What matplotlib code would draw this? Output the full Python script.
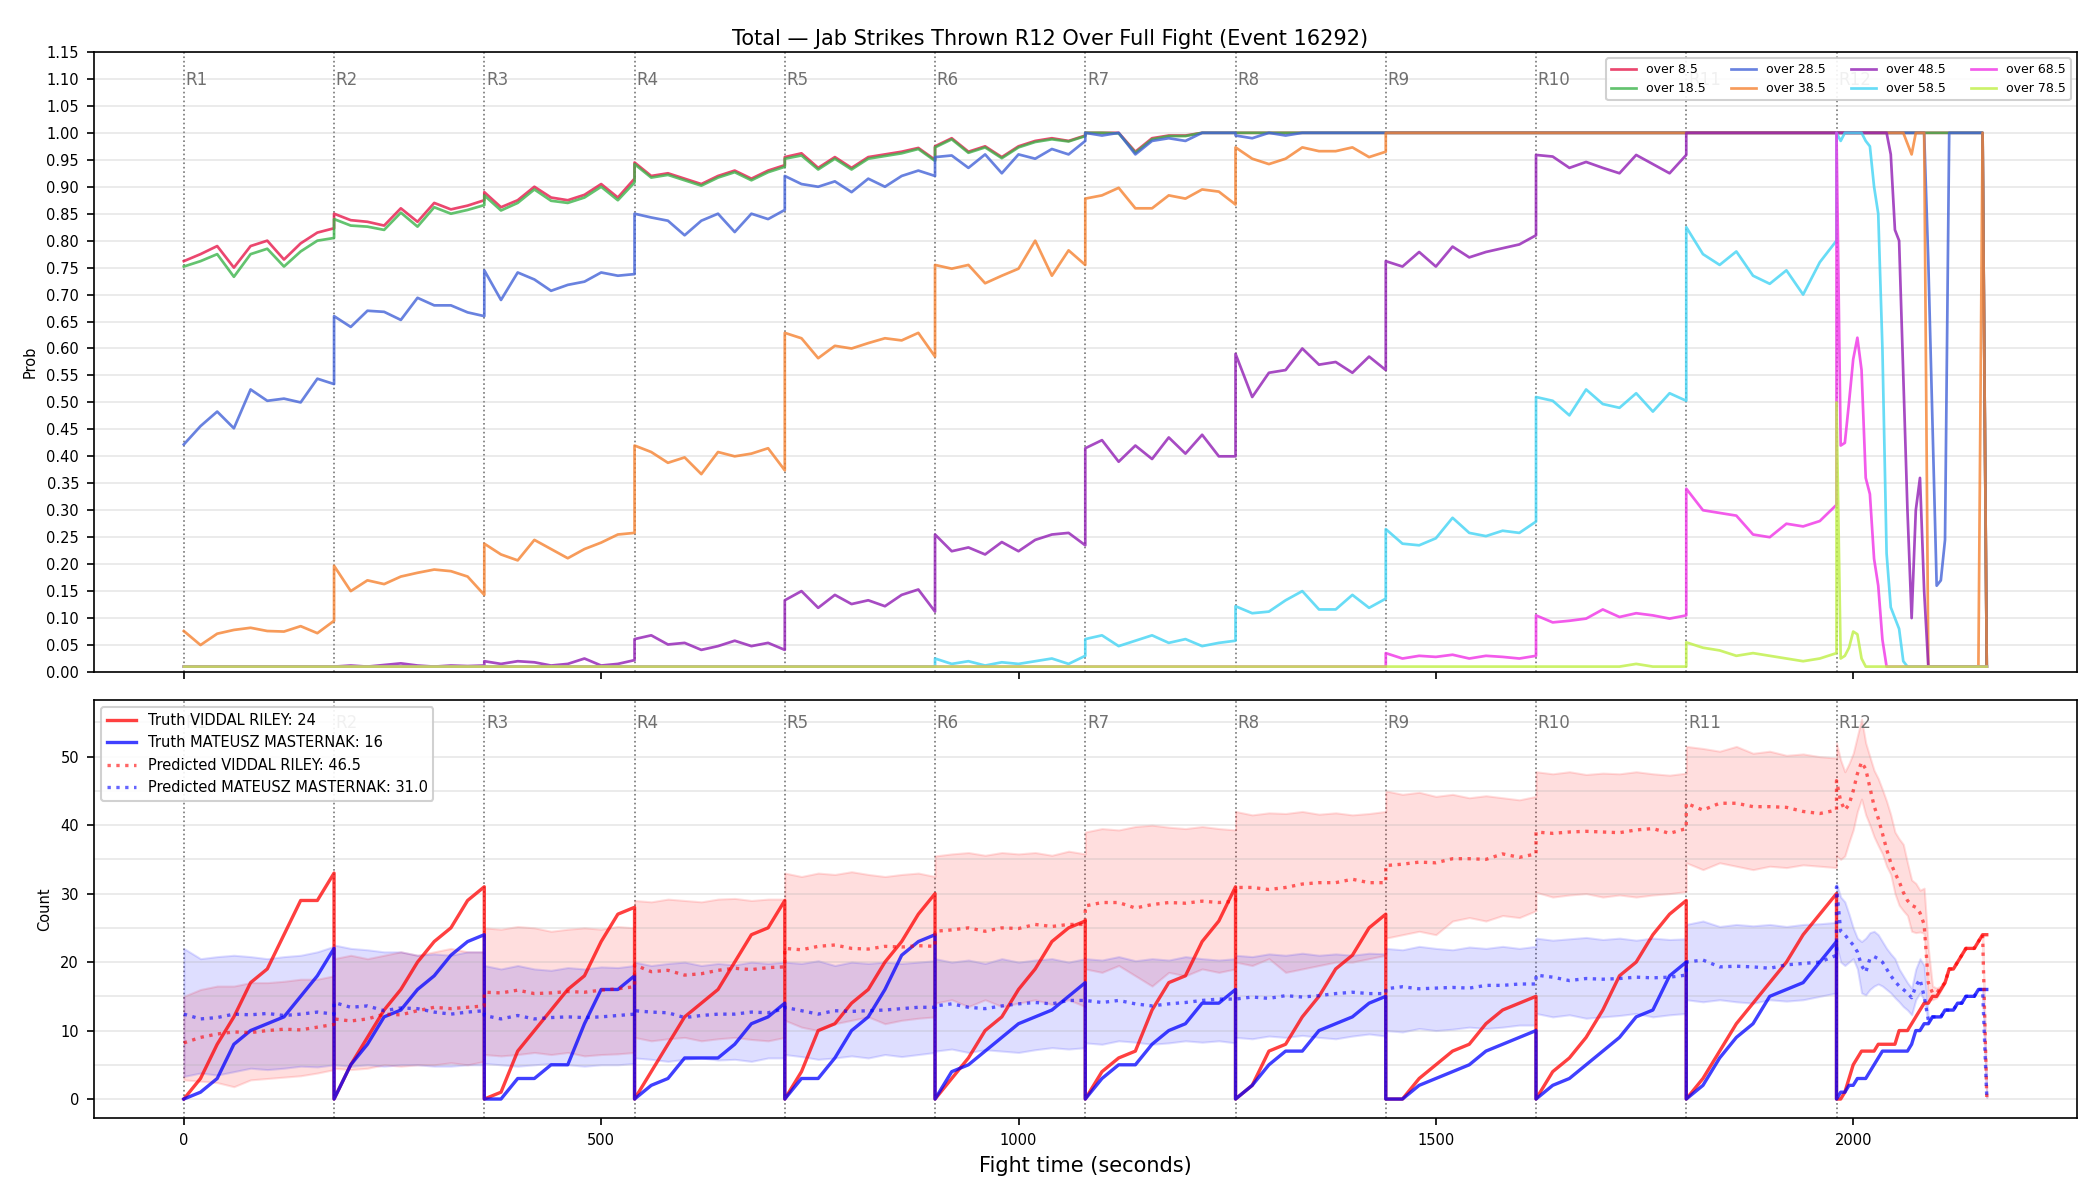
import numpy as np
import matplotlib
matplotlib.use("Agg")
import matplotlib.pyplot as plt
from matplotlib.ticker import MultipleLocator, FormatStrFormatter

# sampling grid: every 20 s in rounds 1-11, every 5 s in round 12
round_offsets = [0, 20, 40, 60, 80, 100, 120, 140, 160, 180]
r12_offsets = list(range(0, 181, 5))
round_starts = [0, 180, 360, 540, 720, 900, 1080, 1260, 1440, 1620, 1800, 1980]
round_names = ["R1", "R2", "R3", "R4", "R5", "R6", "R7", "R8", "R9", "R10", "R11", "R12"]

line_labels = ["over 8.5", "over 18.5", "over 28.5", "over 38.5",
               "over 48.5", "over 58.5", "over 68.5", "over 78.5"]
line_colors = ["#e6194b", "#3cb44b", "#4363d8", "#f58231",
               "#911eb4", "#42d4f4", "#f032e6", "#bfef45"]

# ---- probability of "over" per line, one list per round ----
over_8_5 = [
    [0.762, 0.775, 0.79, 0.75, 0.79, 0.80, 0.765, 0.795, 0.815, 0.823],
    [0.85, 0.838, 0.835, 0.828, 0.86, 0.835, 0.87, 0.858, 0.865, 0.875],
    [0.89, 0.862, 0.875, 0.90, 0.88, 0.875, 0.885, 0.905, 0.88, 0.915],
    [0.945, 0.92, 0.925, 0.915, 0.905, 0.92, 0.93, 0.915, 0.93, 0.94],
    [0.955, 0.962, 0.935, 0.955, 0.935, 0.955, 0.96, 0.965, 0.972, 0.95],
    [0.975, 0.99, 0.965, 0.975, 0.955, 0.975, 0.985, 0.99, 0.985, 0.995],
    [1.0, 1.0, 1.0, 0.965, 0.99, 0.995, 0.995, 1.0, 1.0, 1.0],
    [1.0] * 10, [1.0] * 10, [1.0] * 10, [1.0] * 10,
    [1.0] * 36 + [0.01],
]
over_18_5 = [
    [0.752, 0.762, 0.775, 0.733, 0.775, 0.785, 0.752, 0.78, 0.80, 0.805],
    [0.84, 0.828, 0.826, 0.82, 0.852, 0.826, 0.862, 0.85, 0.857, 0.866],
    [0.884, 0.856, 0.87, 0.895, 0.874, 0.87, 0.88, 0.90, 0.875, 0.908],
    [0.942, 0.917, 0.922, 0.912, 0.902, 0.917, 0.927, 0.912, 0.927, 0.937],
    [0.952, 0.958, 0.932, 0.952, 0.932, 0.952, 0.957, 0.962, 0.97, 0.948],
    [0.973, 0.988, 0.963, 0.973, 0.953, 0.973, 0.983, 0.988, 0.984, 0.994],
    [1.0, 1.0, 0.999, 0.963, 0.988, 0.994, 0.994, 1.0, 1.0, 1.0],
    [1.0] * 10, [1.0] * 10, [1.0] * 10, [1.0] * 10,
    [1.0] * 36 + [0.01],
]
over_28_5 = [
    [0.422, 0.456, 0.483, 0.452, 0.524, 0.503, 0.507, 0.50, 0.544, 0.534],
    [0.66, 0.64, 0.67, 0.668, 0.653, 0.694, 0.68, 0.68, 0.667, 0.66],
    [0.745, 0.69, 0.741, 0.728, 0.707, 0.718, 0.724, 0.741, 0.735, 0.738],
    [0.85, 0.843, 0.837, 0.81, 0.837, 0.85, 0.816, 0.85, 0.84, 0.857],
    [0.92, 0.905, 0.90, 0.91, 0.89, 0.915, 0.90, 0.92, 0.93, 0.92],
    [0.955, 0.958, 0.935, 0.96, 0.925, 0.96, 0.952, 0.97, 0.96, 0.985],
    [1.0, 0.995, 1.0, 0.96, 0.985, 0.99, 0.985, 1.0, 1.0, 1.0],
    [0.995, 0.99, 1.0, 0.995, 1.0, 1.0, 1.0, 1.0, 1.0, 1.0],
    [1.0] * 10, [1.0] * 10, [1.0] * 10,
    [1.0] * 22 + [0.76, 0.46, 0.16, 0.17, 0.245] + [1.0] * 9 + [0.01],
]
over_38_5 = [
    [0.076, 0.05, 0.071, 0.078, 0.082, 0.076, 0.075, 0.085, 0.072, 0.095],
    [0.197, 0.15, 0.17, 0.163, 0.177, 0.184, 0.19, 0.187, 0.177, 0.143],
    [0.238, 0.218, 0.207, 0.245, 0.228, 0.211, 0.228, 0.24, 0.255, 0.258],
    [0.42, 0.408, 0.388, 0.398, 0.367, 0.408, 0.40, 0.405, 0.415, 0.374],
    [0.629, 0.619, 0.582, 0.605, 0.60, 0.61, 0.619, 0.615, 0.629, 0.585],
    [0.755, 0.748, 0.755, 0.721, 0.735, 0.748, 0.80, 0.735, 0.782, 0.755],
    [0.878, 0.884, 0.898, 0.86, 0.86, 0.884, 0.878, 0.895, 0.891, 0.867],
    [0.973, 0.952, 0.942, 0.952, 0.973, 0.966, 0.966, 0.973, 0.955, 0.965],
    [1.0] * 10, [1.0] * 10, [1.0] * 10,
    [1.0] * 17 + [0.98, 0.96, 1.0, 1.0, 1.0] + [0.01] * 13 + [1.0, 0.01],
]
over_48_5 = [
    [0.01] * 10,
    [0.01, 0.012, 0.01, 0.013, 0.016, 0.012, 0.01, 0.012, 0.011, 0.012],
    [0.02, 0.015, 0.02, 0.018, 0.012, 0.015, 0.025, 0.012, 0.015, 0.022],
    [0.061, 0.068, 0.051, 0.054, 0.041, 0.048, 0.058, 0.048, 0.054, 0.041],
    [0.133, 0.15, 0.119, 0.143, 0.126, 0.133, 0.122, 0.143, 0.153, 0.112],
    [0.255, 0.224, 0.231, 0.218, 0.241, 0.224, 0.245, 0.255, 0.258, 0.235],
    [0.415, 0.43, 0.39, 0.42, 0.395, 0.435, 0.405, 0.44, 0.40, 0.40],
    [0.59, 0.51, 0.555, 0.56, 0.60, 0.57, 0.575, 0.555, 0.585, 0.56],
    [0.762, 0.752, 0.779, 0.752, 0.789, 0.769, 0.779, 0.786, 0.793, 0.81],
    [0.959, 0.956, 0.935, 0.946, 0.935, 0.925, 0.959, 0.942, 0.925, 0.959],
    [1.0] * 10,
    [1.0] * 13 + [0.96, 0.82, 0.80, 0.55, 0.30, 0.10, 0.30, 0.36, 0.15] + [0.01] * 15,
]
over_58_5 = [
    [0.01] * 10, [0.01] * 10, [0.01] * 10, [0.01] * 10, [0.01] * 10,
    [0.025, 0.015, 0.02, 0.012, 0.018, 0.015, 0.02, 0.025, 0.015, 0.03],
    [0.061, 0.068, 0.048, 0.058, 0.068, 0.054, 0.061, 0.048, 0.054, 0.058],
    [0.122, 0.109, 0.112, 0.133, 0.15, 0.116, 0.116, 0.143, 0.119, 0.136],
    [0.265, 0.238, 0.235, 0.248, 0.286, 0.258, 0.252, 0.262, 0.258, 0.279],
    [0.51, 0.503, 0.476, 0.524, 0.497, 0.49, 0.517, 0.483, 0.517, 0.503],
    [0.825, 0.775, 0.755, 0.78, 0.735, 0.72, 0.745, 0.70, 0.76, 0.80],
    [1.0, 0.985, 1.0, 1.0, 1.0, 1.0, 1.0, 0.985, 0.975, 0.90, 0.85, 0.60,
     0.22, 0.12, 0.10, 0.08, 0.02] + [0.01] * 20,
]
over_68_5 = [
    [0.01] * 10, [0.01] * 10, [0.01] * 10, [0.01] * 10,
    [0.01] * 10, [0.01] * 10, [0.01] * 10, [0.01] * 10,
    [0.035, 0.025, 0.03, 0.028, 0.032, 0.025, 0.03, 0.028, 0.025, 0.03],
    [0.105, 0.092, 0.095, 0.099, 0.116, 0.102, 0.109, 0.105, 0.099, 0.105],
    [0.34, 0.30, 0.295, 0.29, 0.255, 0.25, 0.275, 0.27, 0.28, 0.31],
    [1.0, 0.42, 0.425, 0.50, 0.58, 0.62, 0.56, 0.36, 0.33, 0.21, 0.16, 0.06,
     0.01] + [0.01] * 24,
]
over_78_5 = [
    [0.01] * 10, [0.01] * 10, [0.01] * 10, [0.01] * 10, [0.01] * 10,
    [0.01] * 10, [0.01] * 10, [0.01] * 10, [0.01] * 10,
    [0.01, 0.01, 0.01, 0.01, 0.01, 0.01, 0.015, 0.01, 0.01, 0.01],
    [0.055, 0.045, 0.04, 0.03, 0.035, 0.03, 0.025, 0.02, 0.025, 0.035],
    [0.50, 0.025, 0.03, 0.045, 0.075, 0.07, 0.025, 0.01] + [0.01] * 29,
]

# ---- counts (within-round cumulative) ----
truth_riley = [
    [0, 3, 8, 12, 17, 19, 24, 29, 29, 33],
    [0, 5, 9, 13, 16, 20, 23, 25, 29, 31],
    [0, 1, 7, 10, 13, 16, 18, 23, 27, 28],
    [0, 4, 8, 12, 14, 16, 20, 24, 25, 29],
    [0, 4, 10, 11, 14, 16, 20, 23, 27, 30],
    [0, 3, 6, 10, 12, 16, 19, 23, 25, 26],
    [0, 4, 6, 7, 13, 17, 18, 23, 26, 31],
    [0, 2, 7, 8, 12, 15, 19, 21, 25, 27],
    [0, 0, 3, 5, 7, 8, 11, 13, 14, 15],
    [0, 4, 6, 9, 13, 18, 20, 24, 27, 29],
    [0, 3, 7, 11, 14, 17, 20, 24, 27, 30],
    [0, 0, 1, 3, 5, 6, 7, 7, 7, 7, 8, 8, 8, 8, 8, 10, 10, 10, 11, 12, 13, 14,
     14, 15, 15, 16, 17, 19, 19, 20, 21, 22, 22, 22, 23, 24, 24],
]
truth_masternak = [
    [0, 1, 3, 8, 10, 11, 12, 15, 18, 22],
    [0, 5, 8, 12, 13, 16, 18, 21, 23, 24],
    [0, 0, 3, 3, 5, 5, 11, 16, 16, 18],
    [0, 2, 3, 6, 6, 6, 8, 11, 12, 14],
    [0, 3, 3, 6, 10, 12, 16, 21, 23, 24],
    [0, 4, 5, 7, 9, 11, 12, 13, 15, 17],
    [0, 3, 5, 5, 8, 10, 11, 14, 14, 16],
    [0, 2, 5, 7, 7, 10, 11, 12, 14, 15],
    [0, 0, 2, 3, 4, 5, 7, 8, 9, 10],
    [0, 2, 3, 5, 7, 9, 12, 13, 18, 20],
    [0, 2, 6, 9, 11, 15, 16, 17, 20, 23],
    [0, 1, 1, 2, 2, 3, 3, 3, 4, 5, 6, 7, 7, 7, 7, 7, 7, 7, 8, 10, 10, 11, 11,
     12, 12, 12, 13, 13, 13, 14, 14, 15, 15, 15, 16, 16, 16],
]
pred_riley = [
    [8.2, 9.0, 9.5, 9.8, 9.7, 10.0, 10.2, 10.1, 10.5, 10.9],
    [11.7, 11.4, 11.7, 12.4, 12.3, 12.9, 13.4, 13.2, 13.4, 13.6],
    [15.6, 15.5, 15.9, 15.4, 15.5, 15.7, 15.6, 15.9, 16.1, 16.4],
    [19.6, 18.6, 18.8, 18.1, 18.3, 18.8, 19.1, 18.9, 19.2, 19.3],
    [22.0, 21.8, 22.3, 22.5, 22.0, 21.9, 22.3, 22.2, 22.4, 22.3],
    [24.5, 24.7, 25.0, 24.5, 25.0, 24.9, 25.5, 25.2, 25.5, 25.5],
    [28.2, 28.7, 28.7, 27.9, 28.4, 28.7, 28.6, 28.9, 28.7, 28.9],
    [30.9, 30.9, 30.6, 30.9, 31.4, 31.6, 31.6, 32.1, 31.6, 31.6],
    [34.1, 34.3, 34.6, 34.5, 35.1, 35.1, 35.0, 35.8, 35.3, 35.8],
    [39.0, 38.8, 39.0, 39.1, 39.0, 38.9, 39.3, 39.5, 38.8, 39.5],
    [43.2, 42.2, 43.2, 43.2, 42.7, 42.7, 42.6, 42.0, 41.7, 42.2],
    [46.5, 43.5, 42.2, 43.0, 45.0, 47.5, 49.2, 48.2, 45.5, 42.8, 41.0, 38.8,
     36.5, 34.5, 33.0, 31.8, 30.2, 29.0, 28.3, 28.0, 27.2, 25.5, 17.0, 15.5,
     15.5, 16.3, 17, 19, 19, 20, 21, 22, 22, 22, 23, 24, 0.3],
]
pred_masternak = [
    [12.4, 11.7, 11.9, 12.4, 12.3, 12.5, 12.2, 12.4, 12.7, 12.4],
    [14.1, 13.4, 13.6, 12.9, 13.3, 13.2, 12.7, 12.4, 12.7, 12.9],
    [12.2, 11.7, 12.2, 11.7, 11.9, 12.0, 11.9, 12.0, 12.2, 12.4],
    [12.9, 12.7, 12.6, 11.9, 12.2, 12.4, 12.4, 12.7, 12.6, 13.2],
    [13.4, 12.9, 12.4, 12.9, 12.8, 12.9, 13.0, 13.2, 13.4, 13.4],
    [13.6, 13.9, 13.4, 13.2, 13.6, 13.9, 14.1, 13.9, 14.4, 14.4],
    [14.4, 14.1, 14.4, 13.9, 13.6, 13.9, 14.1, 14.4, 14.6, 14.6],
    [14.6, 14.9, 14.7, 15.1, 14.9, 15.1, 15.4, 15.6, 15.4, 15.4],
    [16.1, 16.4, 16.1, 16.2, 16.3, 16.2, 16.6, 16.6, 16.8, 16.8],
    [18.1, 17.8, 17.3, 17.6, 17.5, 17.6, 17.8, 17.7, 17.8, 18.1],
    [20.0, 20.3, 19.3, 19.4, 19.3, 19.1, 19.6, 19.8, 20.0, 21.0],
    [31.0, 24.5, 24.0, 23.2, 22.5, 21.5, 19.5, 18.5, 20.5, 20.8, 20.5, 20.0,
     19.0, 18.0, 17.2, 16.5, 16.0, 15.5, 14.8, 16.5, 17.5, 15.0, 11.5,
     12, 12, 12, 13, 13, 13, 14, 14, 15, 15, 15, 16, 16, 0.3],
]
riley_hi = [
    [15.0, 16.0, 16.5, 16.5, 17.0, 17.0, 17.2, 17.5, 17.5, 18.0],
    [20.5, 21.0, 20.5, 21.0, 21.5, 21.0, 21.5, 22.0, 21.5, 21.5],
    [25.0, 24.8, 25.2, 25.0, 24.5, 24.8, 25.0, 24.8, 25.2, 25.0],
    [29.0, 28.8, 29.2, 29.0, 28.8, 29.2, 29.3, 29.0, 29.2, 29.2],
    [33.0, 32.5, 33.0, 32.8, 33.2, 32.8, 32.5, 32.8, 33.0, 32.5],
    [35.5, 35.8, 36.0, 35.6, 36.0, 35.8, 36.0, 35.6, 36.2, 35.8],
    [39.0, 39.5, 39.3, 39.8, 40.0, 39.7, 39.5, 39.8, 39.5, 39.3],
    [42.0, 41.5, 41.8, 41.7, 42.0, 41.6, 41.8, 41.5, 41.7, 42.0],
    [45.0, 44.5, 44.8, 44.2, 44.5, 44.0, 44.3, 44.0, 43.7, 44.2],
    [47.8, 47.5, 47.8, 47.4, 47.6, 47.5, 47.8, 47.5, 47.3, 47.6],
    [51.5, 51.2, 50.8, 51.5, 50.5, 50.8, 50.2, 50.4, 50.0, 49.8],
    [52.0, 49.5, 47.8, 49.0, 50.5, 53.0, 55.5, 52.0, 50.0, 48.0, 46.8, 45.2,
     43.5, 41.5, 39.0, 38.0, 37.2, 34.5, 32.0, 31.5, 30.5, 30.8, 22.0, 16.5,
     16.2, 16.5, 17, 19, 19, 20, 21, 22, 22, 22, 23, 24, 0.3],
]
riley_lo = [
    [2.8, 2.6, 2.4, 1.8, 2.8, 3.0, 3.2, 3.4, 3.8, 4.3],
    [4.5, 4.3, 4.5, 5.0, 4.8, 5.0, 5.0, 5.3, 5.0, 5.5],
    [6.5, 6.3, 6.5, 6.8, 6.5, 6.8, 6.3, 6.5, 6.6, 6.8],
    [9.0, 8.5, 8.8, 9.0, 8.5, 8.8, 9.0, 8.7, 8.5, 9.0],
    [11.5, 10.5, 10.0, 11.0, 11.5, 12.0, 11.0, 11.5, 11.8, 12.0],
    [14.0, 14.5, 13.5, 14.5, 13.5, 14.0, 14.5, 13.8, 14.5, 13.5],
    [19.0, 18.5, 19.5, 18.0, 16.5, 18.5, 18.0, 19.0, 18.5, 19.0],
    [20.0, 19.5, 20.5, 18.5, 19.0, 19.5, 20.0, 20.0, 20.5, 21.0],
    [23.5, 24.0, 24.5, 24.0, 26.0, 26.5, 26.0, 26.8, 26.5, 27.5],
    [30.2, 29.5, 29.8, 30.0, 29.5, 29.8, 29.5, 29.8, 30.0, 30.3],
    [34.5, 33.5, 34.5, 34.0, 33.5, 34.0, 33.8, 34.2, 34.0, 33.8],
    [35.5, 35.0, 35.5, 37.5, 39.3, 42.0, 43.8, 41.5, 40.0, 38.3, 37.0, 35.8,
     34.0, 32.8, 30.0, 28.3, 27.5, 26.8, 24.5, 24.3, 24.4, 24.2, 14.5, 14.5,
     14.8, 15.8, 17, 19, 19, 20, 21, 22, 22, 22, 23, 24, 0.3],
]
masternak_hi = [
    [22.0, 20.5, 20.8, 21.0, 20.8, 20.5, 20.8, 21.0, 21.5, 22.3],
    [22.5, 22.0, 21.8, 21.5, 21.5, 21.0, 21.2, 21.0, 21.5, 21.5],
    [19.5, 19.0, 19.5, 19.0, 18.8, 19.2, 19.0, 19.3, 19.2, 19.5],
    [20.0, 19.5, 19.8, 20.0, 19.5, 19.8, 19.6, 20.0, 19.8, 20.0],
    [20.0, 19.8, 20.2, 19.5, 20.0, 19.8, 20.0, 19.8, 20.0, 20.2],
    [20.5, 20.0, 20.3, 19.8, 20.5, 20.0, 20.3, 20.5, 20.0, 20.5],
    [20.5, 20.3, 20.8, 20.2, 20.5, 20.3, 20.8, 20.5, 20.3, 20.5],
    [21.0, 20.8, 21.2, 21.0, 21.3, 21.0, 21.2, 21.0, 21.3, 21.2],
    [22.0, 21.8, 22.3, 22.0, 21.8, 22.2, 22.0, 22.3, 22.0, 22.3],
    [23.5, 23.2, 23.4, 23.6, 23.3, 23.5, 23.2, 23.5, 23.3, 23.4],
    [25.5, 26.0, 25.2, 25.5, 25.3, 25.5, 25.2, 25.5, 25.6, 25.8],
    [31.5, 29.5, 28.8, 27.0, 25.0, 23.5, 23.0, 23.5, 24.3, 24.5, 24.0, 23.0,
     22.0, 21.2, 20.5, 19.0, 18.0, 17.0, 16.2, 19.0, 20.5, 19.5, 12.0,
     12, 12, 12, 13, 13, 13, 14, 14, 15, 15, 15, 16, 16, 0.3],
]
masternak_lo = [
    [3.3, 3.8, 3.5, 4.0, 4.5, 4.3, 4.5, 4.8, 4.7, 5.0],
    [5.0, 4.8, 5.0, 4.8, 5.0, 5.0, 4.8, 4.8, 5.0, 5.0],
    [5.2, 5.0, 4.8, 5.0, 5.2, 5.0, 4.8, 5.0, 5.0, 5.2],
    [6.0, 5.8, 5.5, 5.8, 6.0, 5.7, 5.8, 5.5, 6.0, 6.0],
    [6.5, 6.2, 5.8, 6.0, 6.3, 6.0, 6.5, 6.2, 6.5, 6.8],
    [7.0, 7.3, 6.8, 7.2, 7.0, 6.8, 7.2, 7.5, 7.3, 7.5],
    [8.2, 8.0, 8.5, 8.3, 8.0, 8.2, 8.5, 8.3, 8.5, 8.2],
    [9.0, 8.8, 9.2, 9.0, 9.3, 9.0, 8.8, 9.2, 9.5, 9.2],
    [10.0, 9.8, 10.3, 10.0, 10.2, 10.5, 10.3, 10.5, 10.8, 10.8],
    [12.5, 12.0, 12.3, 11.8, 12.0, 12.2, 12.5, 12.0, 12.3, 12.5],
    [14.5, 14.2, 14.5, 14.2, 14.0, 14.5, 14.3, 14.5, 15.0, 15.5],
    [22.5, 20.0, 19.5, 20.0, 20.5, 19.0, 15.5, 15.2, 16.0, 16.5, 16.8, 16.5,
     16.0, 15.5, 14.8, 14.2, 13.5, 13.0, 12.3, 14.5, 15.5, 14.5, 11.0,
     12, 12, 12, 13, 13, 13, 14, 14, 15, 15, 15, 16, 16, 0.3],
]

# time axis
times = []
for i, start in enumerate(round_starts):
    offs = r12_offsets if i == len(round_starts) - 1 else round_offsets
    times += [start + o for o in offs]
times = np.array(times)


def flat(rounds):
    vals = [v for rnd in rounds for v in rnd]
    assert len(vals) == len(times), len(vals)
    return np.array(vals, dtype=float)


prob_series = [over_8_5, over_18_5, over_28_5, over_38_5,
               over_48_5, over_58_5, over_68_5, over_78_5]

fig, (ax1, ax2) = plt.subplots(
    2, 1, figsize=(14, 8), dpi=150, sharex=True,
    gridspec_kw={"height_ratios": [620, 418], "hspace": 0.054})
fig.subplots_adjust(left=0.0446, right=0.989, top=0.9567, bottom=0.0683)

# top panel
for series, lab, col in zip(prob_series, line_labels, line_colors):
    ax1.plot(times, flat(series), color=col, lw=1.3, alpha=0.8, label=lab)
ax1.set_ylim(0, 1.15)
ax1.set_yticks(np.arange(0, 1.151, 0.05))
ax1.yaxis.set_major_formatter(FormatStrFormatter("%.2f"))
ax1.set_ylabel("Prob", fontsize=7)
ax1.grid(axis="y", alpha=0.3)
ax1.legend(loc="upper right", ncol=4, fontsize=6, framealpha=0.9)

# bottom panel
ax2.fill_between(times, flat(riley_lo), flat(riley_hi), color="red", alpha=0.13)
ax2.fill_between(times, flat(masternak_lo), flat(masternak_hi), color="blue", alpha=0.13)
ax2.plot(times, flat(truth_riley), color="red", lw=1.6, alpha=0.75,
         label="Truth VIDDAL RILEY: 24")
ax2.plot(times, flat(truth_masternak), color="blue", lw=1.6, alpha=0.75,
         label="Truth MATEUSZ MASTERNAK: 16")
ax2.plot(times, flat(pred_riley), color="red", lw=1.6, ls=":", alpha=0.6,
         label="Predicted VIDDAL RILEY: 46.5")
ax2.plot(times, flat(pred_masternak), color="blue", lw=1.6, ls=":", alpha=0.6,
         label="Predicted MATEUSZ MASTERNAK: 31.0")
ax2.yaxis.set_major_locator(MultipleLocator(10))
ax2.yaxis.set_minor_locator(MultipleLocator(5))
ax2.tick_params(axis="y", which="minor", length=0)
ax2.grid(axis="y", which="both", alpha=0.3)
ax2.set_ylabel("Count", fontsize=7)
ax2.set_xlabel("Fight time (seconds)", fontsize=10)
ax2.legend(loc="upper left", fontsize=7, framealpha=0.9)

for ax, ytxt in ((ax1, 0.955), (ax2, 0.945)):
    for start, name in zip(round_starts, round_names):
        ax.axvline(start, color="#555555", ls=":", lw=0.8, alpha=0.8, zorder=0.5)
        ax.text(start + 2, ytxt, name, transform=ax.get_xaxis_transform(),
                fontsize=8, color="#707070", ha="left", va="center")
    ax.tick_params(labelsize=7)

fig.suptitle("Total \u2014 Jab Strikes Thrown R12 Over Full Fight (Event 16292)",
             fontsize=10, y=0.976)

fig.savefig("out.png", dpi=150)
